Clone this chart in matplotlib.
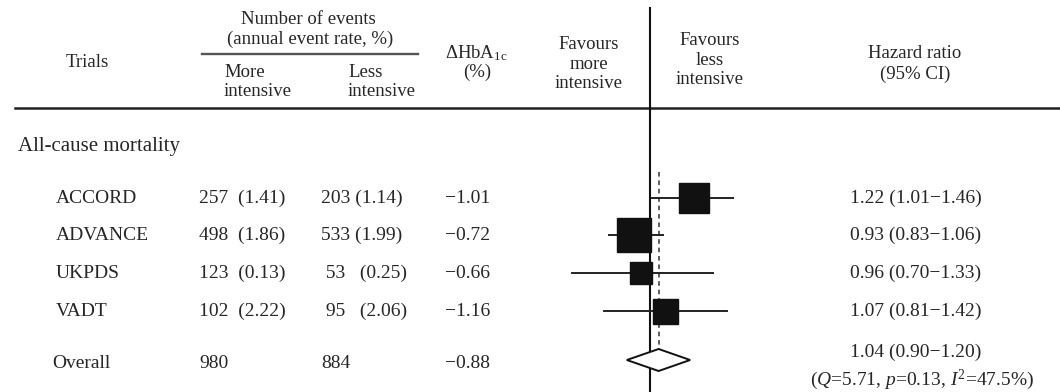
import numpy as np
import matplotlib
matplotlib.use("Agg")
import matplotlib.pyplot as plt

plt.rcParams["font.family"] = ["Liberation Serif", "DejaVu Serif"]
plt.rcParams["mathtext.fontset"] = "custom"
plt.rcParams["mathtext.rm"] = "Liberation Serif"
plt.rcParams["mathtext.it"] = "Liberation Serif:italic"

# data
trials = ["ACCORD", "ADVANCE", "UKPDS", "VADT"]
more_events = ["257  (1.41)", "498  (1.86)", "123  (0.13)", "102  (2.22)"]
less_events = ["203 (1.14)", "533 (1.99)", " 53   (0.25)", " 95   (2.06)"]
delta_hba1c = ["\u22121.01", "\u22120.72", "\u22120.66", "\u22121.16"]
hr = [1.22, 0.93, 0.96, 1.07]
hr_lo = [1.01, 0.83, 0.70, 0.81]
hr_hi = [1.46, 1.06, 1.33, 1.42]
box_size = [22, 25, 16, 18]  # marker size (pt), study weight
overall_more = "980"
overall_less = "884"
overall_delta = "\u22120.88"
overall_hr, overall_lo, overall_hi = 1.04, 0.90, 1.20
het_text = r"($Q$=5.71, $p$=0.13, $I^2$=47.5%)"

txt = "#262626"
row_y = [198, 235, 273, 311]
overall_y = 360

fig = plt.figure(figsize=(10.6, 3.92), dpi=100)
ax = fig.add_axes([0, 0, 1, 1])
ax.set_xlim(0, 1060)
ax.set_ylim(392, 0)
ax.axis("off")

# header
hs = 13.5
ax.text(87, 62, "Trials", ha="center", va="center", fontsize=hs, color=txt)
ax.text(308, 19, "Number of events", ha="center", va="center", fontsize=hs, color=txt)
ax.text(310, 39, "(annual event rate, %)", ha="center", va="center", fontsize=hs, color=txt)
ax.plot([202, 418], [54, 54], color="#555555", lw=1.7)
ax.text(224, 82, "More\nintensive", ha="left", va="center", fontsize=hs, color=txt, linespacing=1.1)
ax.text(348, 82, "Less\nintensive", ha="left", va="center", fontsize=hs, color=txt, linespacing=1.1)
ax.text(476, 53, r"ΔHbA$_{\rm 1c}$", ha="center", va="center", fontsize=hs, color=txt)
ax.text(477, 72, "(%)", ha="center", va="center", fontsize=hs, color=txt)
ax.text(589, 64, "Favours\nmore\nintensive", ha="center", va="center", fontsize=hs, color=txt, linespacing=1.2)
ax.text(710, 60, "Favours\nless\nintensive", ha="center", va="center", fontsize=hs, color=txt, linespacing=1.2)
ax.text(915, 53, "Hazard ratio", ha="center", va="center", fontsize=hs, color=txt)
ax.text(915, 74, "(95% CI)", ha="center", va="center", fontsize=hs, color=txt)
ax.plot([15, 1060], [108, 108], color="#222222", lw=1.8)

ax.text(18, 146, "All-cause mortality", ha="left", va="center", fontsize=15, color=txt)

fs = 14
for i, y in enumerate(row_y):
    ax.text(56, y, trials[i], ha="left", va="center", fontsize=fs, color=txt)
    ax.text(199, y, more_events[i], ha="left", va="center", fontsize=fs, color=txt)
    ax.text(321, y, less_events[i], ha="left", va="center", fontsize=fs, color=txt)
    ax.text(445, y, delta_hba1c[i], ha="left", va="center", fontsize=fs, color=txt)
    ax.text(916, y, f"{hr[i]:.2f} ({hr_lo[i]:.2f}\u2212{hr_hi[i]:.2f})",
            ha="center", va="center", fontsize=fs, color=txt)

ax.text(52, overall_y + 3, "Overall", ha="left", va="center", fontsize=fs, color=txt)
ax.text(199, overall_y + 3, overall_more, ha="left", va="center", fontsize=fs, color=txt)
ax.text(321, overall_y + 3, overall_less, ha="left", va="center", fontsize=fs, color=txt)
ax.text(445, overall_y + 3, overall_delta, ha="left", va="center", fontsize=fs, color=txt)
ax.text(916, overall_y - 8,
        f"{overall_hr:.2f} ({overall_lo:.2f}\u2212{overall_hi:.2f})",
        ha="center", va="center", fontsize=fs, color=txt)
ax.text(922, overall_y + 20, het_text, ha="center", va="center", fontsize=fs, color=txt)

# forest panel, log hazard-ratio scale
fax = fig.add_axes([560 / 1060, 0, 220 / 1060, 1])
fax.set_xscale("log")
fax.set_xlim(np.exp(-90 / 220), np.exp(130 / 220))
fax.set_ylim(392, 0)
fax.axis("off")
fax.patch.set_alpha(0)

fax.plot([1, 1], [8, 392], color="#111111", lw=1.5, zorder=3)
fax.plot([overall_hr, overall_hr], [172, 371], color="#333333", lw=1.1,
         ls=(0, (3, 2.5)), zorder=2)
for i, y in enumerate(row_y):
    fax.plot([hr_lo[i], hr_hi[i]], [y, y], color="#222222", lw=1.4, zorder=4)
    fax.plot(hr[i], y, marker="s", ms=box_size[i], color="#111111", mec="#111111", zorder=5)
fax.fill([overall_lo, overall_hr, overall_hi, overall_hr],
         [overall_y, overall_y - 11, overall_y, overall_y + 11],
         facecolor="white", edgecolor="#111111", lw=1.4, zorder=5)

fig.savefig("out.png", dpi=100)
